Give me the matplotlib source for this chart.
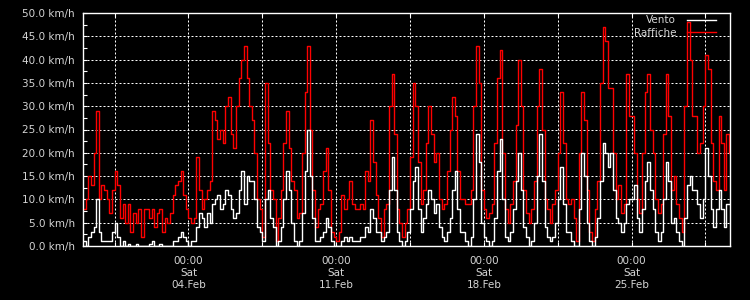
import matplotlib
matplotlib.use("Agg")
import matplotlib.pyplot as plt
import matplotlib.dates as mdates
from matplotlib.ticker import MultipleLocator, FuncFormatter, FixedLocator
import pandas as pd

# valori ogni 3 ore a partire dal 30 gennaio 2023, 00:00
raffiche = [
    8, 10, 15, 13, 20, 29, 10, 13,
    12, 10, 7, 12, 16, 13, 6, 9,
    5, 9, 3, 7, 5, 8, 2, 8,
    8, 6, 8, 4, 7, 8, 3, 6,
    5, 7, 11, 13, 14, 16, 11, 8,
    6, 5, 6, 19, 12, 8, 10, 12,
    14, 29, 27, 23, 25, 22, 30, 32,
    24, 21, 30, 36, 40, 43, 36, 30,
    27, 20, 10, 8, 2, 35, 22, 12,
    10, 1, 6, 12, 22, 29, 21, 14,
    12, 6, 7, 20, 33, 43, 25, 12,
    4, 8, 9, 16, 21, 12, 3, 2,
    1, 3, 11, 8, 10, 14, 9, 8,
    8, 9, 8, 16, 14, 27, 18, 11,
    6, 2, 8, 9, 30, 37, 24, 8,
    5, 2, 5, 8, 19, 35, 30, 18,
    9, 12, 22, 30, 24, 18, 20, 10,
    8, 9, 16, 25, 32, 28, 16, 10,
    10, 9, 9, 12, 30, 43, 35, 12,
    8, 6, 7, 9, 22, 36, 42, 20,
    8, 5, 9, 14, 26, 40, 30, 12,
    7, 5, 8, 14, 30, 38, 25, 10,
    8, 5, 9, 12, 20, 33, 22, 10,
    9, 10, 6, 1, 20, 33, 27, 12,
    3, 1, 8, 14, 35, 47, 44, 34,
    34, 20, 10, 13, 7, 9, 37, 28,
    28, 20, 10, 7, 20, 33, 37, 25,
    20, 10, 7, 9, 24, 37, 28, 12,
    15, 9, 6, 3, 30, 48, 40, 28,
    28, 20, 22, 30, 41, 38, 22, 14,
    12, 28, 22, 12, 24, 20,
]

vento = [
    1, 0, 2, 3, 4, 10, 3, 1,
    1, 1, 1, 3, 5, 2, 0, 1,
    0, 0.5, 0, 0, 0.5, 0, 0, 0,
    0, 0.5, 1, 0, 0, 0.5, 0, 0,
    0, 0, 1, 1, 2, 3, 2, 1,
    0, 1, 1, 4, 7, 6, 4, 7,
    5, 9, 10, 11, 8, 9, 12, 11,
    8, 6, 7, 12, 16, 9, 15, 14,
    14, 10, 4, 3, 1, 10, 12, 6,
    4, 0, 1, 4, 10, 16, 12, 5,
    1, 0, 1, 7, 16, 25, 15, 6,
    1, 1, 2, 3, 6, 4, 1, 0,
    0, 0, 1, 2, 1, 2, 1, 1,
    1, 2, 2, 4, 3, 8, 6, 3,
    3, 1, 2, 3, 12, 19, 12, 3,
    1, 0, 1, 3, 8, 14, 17, 8,
    3, 6, 9, 12, 10, 7, 9, 4,
    2, 1, 3, 6, 12, 16, 8, 3,
    3, 1, 0, 2, 10, 24, 18, 5,
    2, 1, 0, 1, 6, 16, 23, 10,
    2, 1, 3, 8, 14, 20, 12, 4,
    2, 0, 1, 5, 15, 24, 14, 4,
    2, 1, 2, 5, 10, 17, 9, 3,
    3, 1, 0, 0, 8, 20, 15, 5,
    1, 0, 2, 6, 14, 22, 20, 17,
    20, 12, 6, 5, 3, 5, 9, 10,
    10, 13, 6, 3, 8, 14, 18, 12,
    8, 3, 1, 3, 10, 18, 14, 5,
    6, 3, 1, 0, 6, 13, 15, 12,
    12, 9, 6, 10, 21, 15, 8, 4,
    8, 12, 8, 4, 9, 9,
]

tempi = pd.date_range("2023-01-30 00:00", periods=len(vento), freq="3h")
griglia_x = pd.date_range("2023-01-31 12:00", periods=5, freq="7D")

testo = "#d4d4d4"

fig = plt.figure(figsize=(7.5, 3), dpi=100, facecolor="black")
ax = fig.add_axes([83 / 750, 54 / 300, 647 / 750, 233 / 300])
ax.set_facecolor("black")

ax.plot(tempi, raffiche, color="#ff0000", lw=1.0, drawstyle="steps-post", label="Raffiche")
ax.plot(tempi, vento, color="white", lw=1.0, drawstyle="steps-post", label="Vento")

ax.set_xlim(pd.Timestamp("2023-01-30 00:00"), pd.Timestamp("2023-03-01 16:00"))
ax.set_ylim(0, 50)

ax.xaxis.set_major_locator(mdates.WeekdayLocator(byweekday=mdates.SA))
ax.xaxis.set_major_formatter(mdates.DateFormatter("%H:%M\n%a\n%d.%b"))
ax.xaxis.set_minor_locator(FixedLocator(mdates.date2num(griglia_x)))
ax.yaxis.set_major_locator(MultipleLocator(5))
ax.yaxis.set_minor_locator(MultipleLocator(2.5))
ax.yaxis.set_major_formatter(FuncFormatter(lambda v, p: f"{v:.1f} km/h"))

ax.grid(True, which="both", axis="x", color="white", lw=0.72, ls=(0, (2, 2)))
ax.grid(True, which="major", axis="y", color="white", lw=0.72, ls=(0, (2, 2)))

ax.tick_params(axis="both", which="both", direction="in", colors="white",
               labelcolor=testo, labelsize=7.5, length=3, width=0.8)
ax.tick_params(axis="x", which="both", top=True, pad=7)
ax.tick_params(axis="y", which="both", pad=6)
for lab in ax.get_xticklabels():
    lab.set_linespacing(1.25)

for s in ax.spines.values():
    s.set_color("white")
    s.set_linewidth(1.0)

handles, labels = ax.get_legend_handles_labels()
leg = ax.legend(handles[::-1], labels[::-1], loc="upper right", frameon=False,
                markerfirst=False, fontsize=7.5, handlelength=2.8,
                handletextpad=1.0, labelspacing=0.25, borderaxespad=0,
                borderpad=0, bbox_to_anchor=(0.978, 0.99))
for t in leg.get_texts():
    t.set_color(testo)

fig.savefig("out.png", dpi=100, facecolor="black")
